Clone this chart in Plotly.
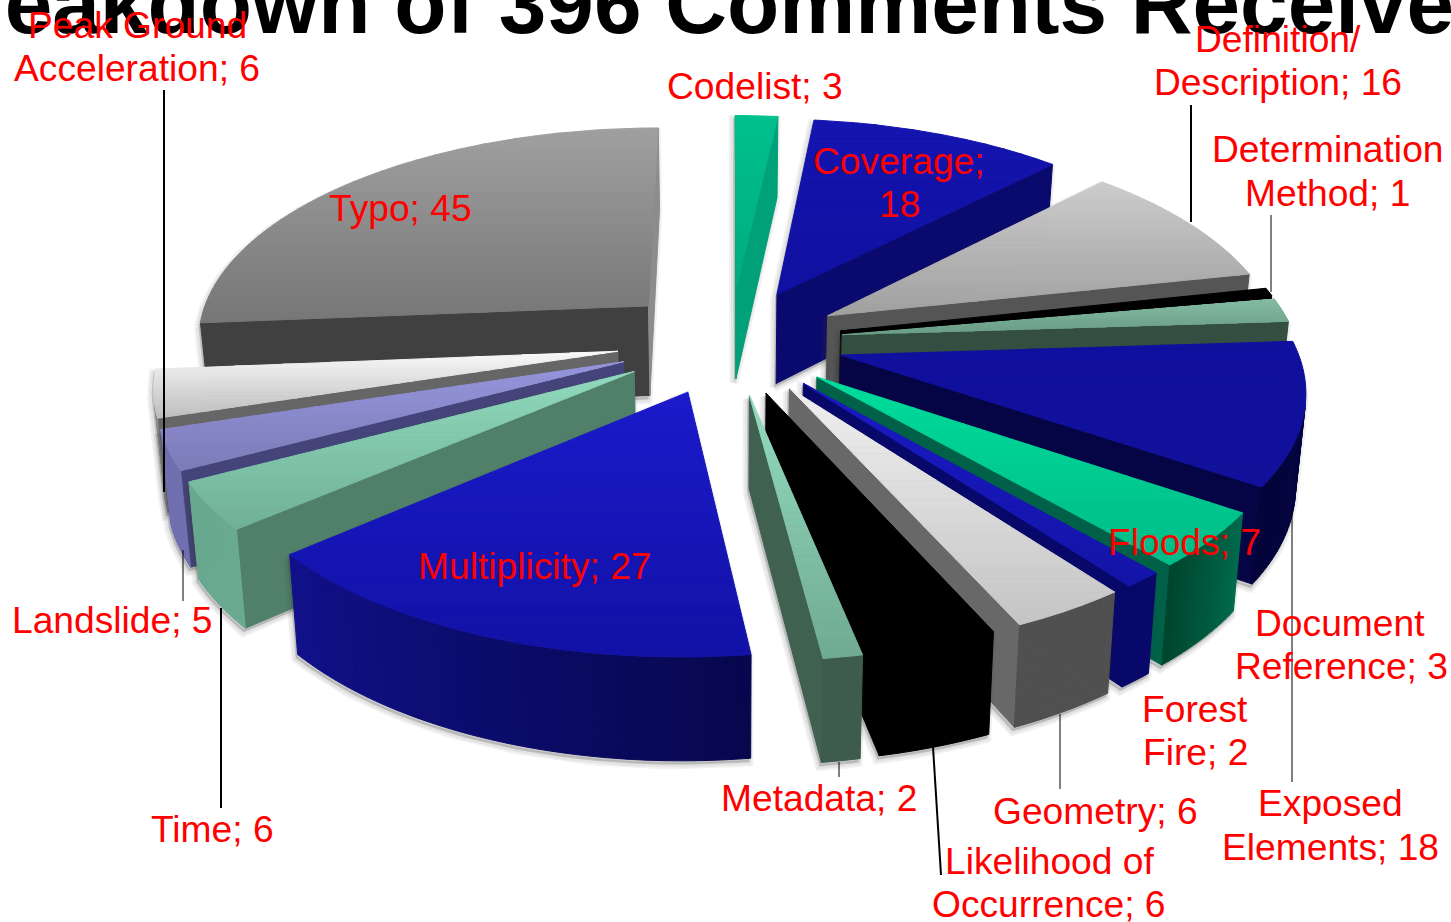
import math
import plotly.graph_objects as go

# ---- data ----
categories = ["Codelist", "Coverage", "Definition/ Description", "Determination Method",
              "Document Reference", "Exposed Elements", "Floods", "Forest Fire", "Geometry",
              "Likelihood of Occurrence", "Metadata", "Multiplicity", "Time", "Landslide",
              "Peak Ground Acceleration", "Typo"]
values = [3, 18, 16, 1, 3, 18, 7, 2, 6, 6, 2, 27, 6, 5, 6, 45]
title_text = "Breakdown of 396 Comments Received"

# ---- styles: top-face start/end, cut-wall colours, outer wall start/end ----
top_hi = ["#00C08E", "#1414B0", "#CCCCCC", "#000000", "#84BCA4", "#10109E", "#00DC9C", "#1A1AC4",
          "#F0F0F0", "#000000", "#94DCC0", "#1A1ACA", "#90DABC", "#9696DE", "#FAFAFA", "#A0A0A0"]
top_lo = ["#00AC7E", "#1010A0", "#A0A0A0", "#000000", "#6C9E88", "#10109A", "#00BC88", "#1414A8",
          "#C4C4C4", "#000000", "#70AA92", "#1212A6", "#70B098", "#7C7CB8", "#BEBEBE", "#767676"]
wall = ["#00A078", "#0A0A6E", "#555555", "#000000", "#344E42", "#050545", "#006048", "#08086A",
        "#686868", "#000000", "#406050", "#10108A", "#50806A", "#44447A", "#666666", "#404040"]
wall_end = ["#00A078", "#0A0A6E", "#555555", "#000000", "#344E42", "#050545", "#006048", "#08086A",
            "#686868", "#000000", "#406050", "#10108A", "#50806A", "#44447A", "#666666", "#8C8C8C"]
outer_a = ["#00A078", "#0A0A6E", "#555555", "#000000", "#344E42", "#05054A", "#006A4C", "#08086A",
           "#505050", "#000000", "#3E5C4E", "#07074E", "#6AAA90", "#7070B0", "#888888", "#404040"]
outer_b = ["#00A078", "#0A0A6E", "#555555", "#000000", "#344E42", "#04043A", "#00462F", "#08086A",
           "#505050", "#000000", "#3E5C4E", "#10108A", "#68A890", "#7070B0", "#888888", "#404040"]

# ---- layout text: (text, centre x, centre y) ----
label_lines = [
    ("Peak Ground", 137, 25), ("Acceleration; 6", 137, 68), ("Codelist; 3", 755, 86),
    ("Definition/", 1278, 39), ("Description; 16", 1278, 82), ("Determination", 1328, 149),
    ("Method; 1", 1327, 193), ("Coverage;", 899, 161), ("18", 899, 204), ("Typo; 45", 400, 208),
    ("Multiplicity; 27", 535, 566), ("Floods; 7", 1184, 542), ("Document", 1340, 623),
    ("Reference; 3", 1341, 666), ("Forest", 1195, 709), ("Fire; 2", 1195, 752),
    ("Exposed", 1330, 803), ("Elements; 18", 1330, 847), ("Geometry; 6", 1095, 811),
    ("Metadata; 2", 819, 798), ("Likelihood of", 1049, 861), ("Occurrence; 6", 1049, 904),
    ("Time; 6", 212, 829), ("Landslide; 5", 112, 620),
]
leaders = [(164, 90, 164, 492, 2), (221, 608, 221, 808, 2), (183, 550, 183, 601, 1),
           (839, 762, 839, 777, 1), (933, 747, 941, 875, 2), (1060, 714, 1060, 789, 1),
           (1292, 510, 1292, 782, 1), (1191, 105, 1191, 222, 2), (1271, 215, 1271, 292, 1)]

# ---- projection of the tilted, exploded pie ----
CX, CY, A, B, P, EXPL, HEIGHT, SHRINK = 730, 341, 454, 212, 0.14, 0.25, 91, 0.982


def project(u, v):
    w = 1 - P * v
    return CX + A * u / w, CY + B * v / w


def lower(u, v):
    x, y = project(u, v)
    return CX + (x - CX) * SHRINK, y + HEIGHT / (1 - 0.10 * v)


def hexrgb(c):
    return tuple(int(c[i:i + 2], 16) for i in (1, 3, 5))


def mix(c1, c2, t):
    a, b = hexrgb(c1), hexrgb(c2)
    return "rgb(%d,%d,%d)" % tuple(round(a[i] + (b[i] - a[i]) * t) for i in range(3))


def clip_y(poly, y0, keep_below):
    out = []
    inside = (lambda p: p[1] >= y0) if keep_below else (lambda p: p[1] <= y0)
    for i, p in enumerate(poly):
        q = poly[(i + 1) % len(poly)]
        if inside(p):
            out.append(p)
        if inside(p) != inside(q):
            t = (y0 - p[1]) / (q[1] - p[1])
            out.append((p[0] + (q[0] - p[0]) * t, y0))
    return out


def hull(points):
    pts = sorted(set(points))
    def half(seq):
        h = []
        for p in seq:
            while len(h) > 1 and (h[-1][0] - h[-2][0]) * (p[1] - h[-2][1]) - (h[-1][1] - h[-2][1]) * (p[0] - h[-2][0]) <= 0:
                h.pop()
            h.append(p)
        return h[:-1]
    return half(pts) + half(pts[::-1])


fig = go.Figure()


def add_poly(poly, color, lw=1.0, line_color=None):
    xs = [p[0] for p in poly] + [poly[0][0]]
    ys = [p[1] for p in poly] + [poly[0][1]]
    fig.add_trace(go.Scatter(x=xs, y=ys, mode="lines", fill="toself", fillcolor=color,
                             line=dict(color=line_color or color, width=lw), hoverinfo="skip",
                             showlegend=False))


def cross(p0, p1, p2):
    return (p1[0] - p0[0]) * (p2[1] - p0[1]) - (p1[1] - p0[1]) * (p2[0] - p0[0])


total = sum(values)
slices = []
acc = 0
for i, val in enumerate(values):
    t0 = acc / total * 2 * math.pi
    acc += val
    t1 = acc / total * 2 * math.pi
    slices.append((i, t0, t1))
slices.sort(key=lambda s: -math.cos((s[1] + s[2]) / 2))

for i, t0, t1 in slices:
    mid = (t0 + t1) / 2
    ou, ov = EXPL * math.sin(mid), -EXPL * math.cos(mid)
    n = max(2, int((t1 - t0) / math.radians(1)))
    rim_w = [(ou + math.sin(t0 + (t1 - t0) * k / n), ov - math.cos(t0 + (t1 - t0) * k / n)) for k in range(n + 1)]
    rim_top = [project(*p) for p in rim_w]
    rim_bot = [lower(*p) for p in rim_w]
    ap_top = project(ou, ov)
    ap_bot = lower(ou, ov)

    # soft shadow
    shape = hull([ap_top, ap_bot] + rim_top + rim_bot)
    for width, dx, dy in ((9, -2, 4), (5, -2, 4), (2, -1, 3)):
        add_poly([(x + dx, y + dy) for x, y in shape], "rgba(60,60,60,0.08)", lw=width,
                 line_color="rgba(60,60,60,0.07)")

    # cut walls
    if cross(ap_top, rim_top[0], rim_bot[0]) < 0:
        add_poly([ap_top, rim_top[0], rim_bot[0], ap_bot], wall[i])
    if cross(ap_top, rim_top[-1], rim_bot[-1]) > 0:
        add_poly([ap_top, rim_top[-1], rim_bot[-1], ap_bot], wall_end[i])
    # outer wall
    for k in range(n):
        if cross(rim_top[k], rim_top[k + 1], rim_bot[k + 1]) < 0:
            add_poly([rim_top[k], rim_top[k + 1], rim_bot[k + 1], rim_bot[k]],
                     mix(outer_a[i], outer_b[i], k / max(1, n - 1)))
    # top face with a vertical gradient
    face = [ap_top] + rim_top
    ymin = min(p[1] for p in face)
    ymax = max(p[1] for p in face)
    bands = 1 if top_hi[i] == top_lo[i] else 36
    for b in range(bands):
        y0 = ymin + (ymax - ymin) * b / bands
        y1 = ymin + (ymax - ymin) * (b + 1) / bands
        part = clip_y(clip_y(face, y0, True), y1, False)
        if len(part) >= 3:
            add_poly(part, mix(top_hi[i], top_lo[i], (b + 0.5) / bands))

shapes = [dict(type="line", xref="x", yref="y", x0=a, y0=b, x1=c, y1=d,
               line=dict(color="black", width=w)) for a, b, c, d, w in leaders]
annotations = [dict(text=t, x=x, y=y, xref="x", yref="y", showarrow=False, xanchor="center",
                    yanchor="middle", font=dict(family="Liberation Sans, Arial", size=37.2, color="#FF0000"))
               for t, x, y in label_lines]

fig.update_layout(
    width=1451, height=922, margin=dict(l=0, r=0, t=0, b=0),
    paper_bgcolor="white", plot_bgcolor="white", showlegend=False,
    title=dict(text="<b>%s</b>" % title_text, x=708 / 1451, xanchor="center", xref="paper",
               y=1 - 33 / 922, yanchor="bottom", yref="container",
               font=dict(family="Liberation Sans, Arial", size=85.5, color="black")),
    xaxis=dict(range=[0, 1451], visible=False, fixedrange=True),
    yaxis=dict(range=[922, 0], visible=False, fixedrange=True),
    shapes=shapes, annotations=annotations,
)
fig.write_html("out.html", config={"displayModeBar": False},
               post_script="document.body.style.margin='0';document.body.style.overflow='hidden';")
